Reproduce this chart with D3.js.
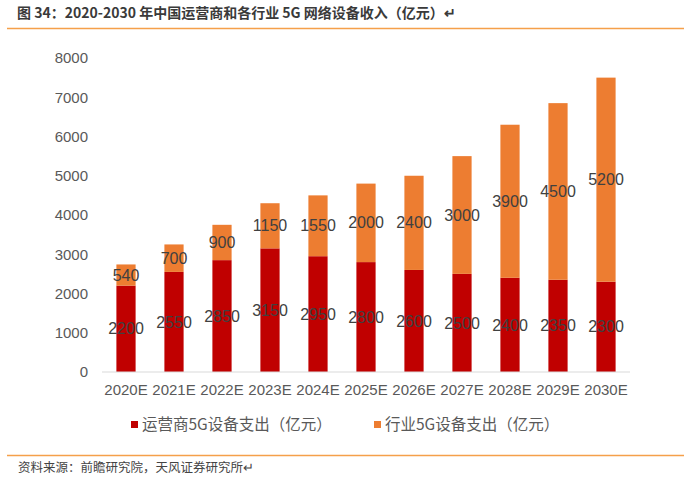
<!DOCTYPE html>
<html>
<head>
<meta charset="utf-8">
<script src="https://cdn.jsdelivr.net/npm/d3@7"></script>
<style>
  body { margin: 0; background: #fff; }
  svg { display: block; font-family: "Liberation Sans", Arial, "Noto Sans CJK SC", sans-serif; }
</style>
</head>
<body>
<div id="chart"></div>
<script>
// data
const years = ["2020E", "2021E", "2022E", "2023E", "2024E", "2025E", "2026E", "2027E", "2028E", "2029E", "2030E"];
const operatorSpend = [2200, 2550, 2850, 3150, 2950, 2800, 2600, 2500, 2400, 2350, 2300];
const industrySpend = [540, 700, 900, 1150, 1550, 2000, 2400, 3000, 3900, 4500, 5200];
const yTicks = [0, 1000, 2000, 3000, 4000, 5000, 6000, 7000, 8000];
const seriesNames = ["运营商5G设备支出（亿元）", "行业5G设备支出（亿元）"];
const colors = ["#C00000", "#ED7D31"];

const W = 700, H = 480;
const svg = d3.select("#chart").append("svg")
    .attr("width", W)
    .attr("height", H);

// header
svg.append("text")
    .attr("x", 17)
    .attr("y", 18)
    .style("font-family", "'Noto Sans CJK SC', sans-serif")
    .style("font-size", "14px")
    .style("font-weight", "bold")
    .attr("fill", "#3a3a3a")
    .text("图 34：2020-2030 年中国运营商和各行业 5G 网络设备收入（亿元）↵");

svg.append("line")
    .attr("x1", 7).attr("x2", 684)
    .attr("y1", 28.5).attr("y2", 28.5)
    .attr("stroke", "#F5A04A")
    .attr("stroke-width", 1.5);

// scales
const x = d3.scaleBand().domain(years).range([102, 630]).paddingInner(0.6).paddingOuter(0.3);
const y = d3.scaleLinear().domain([0, 8000]).range([372, 58]);

const rows = years.map(function(yr, i) {
    return { year: yr, operator: operatorSpend[i], industry: industrySpend[i] };
});
const stacked = d3.stack().keys(["operator", "industry"])(rows);

const layers = svg.selectAll("g.layer")
    .data(stacked)
    .enter()
    .append("g")
    .attr("class", "layer")
    .attr("fill", function(d, i) { return colors[i]; });

layers.selectAll("rect")
    .data(function(d) { return d; })
    .enter()
    .append("rect")
    .attr("x", function(d) { return x(d.data.year); })
    .attr("width", x.bandwidth())
    .attr("y", function(d) { return y(d[1]); })
    .attr("height", function(d) { return y(d[0]) - y(d[1]); });

// value labels, centred in each segment
layers.selectAll("text")
    .data(function(d) { return d.map(function(p) { return { p: p, key: d.key }; }); })
    .enter()
    .append("text")
    .attr("x", function(d) { return x(d.p.data.year) + x.bandwidth() / 2; })
    .attr("y", function(d) { return (y(d.p[0]) + y(d.p[1])) / 2; })
    .attr("dy", "0.35em")
    .attr("text-anchor", "middle")
    .attr("fill", "#404040")
    .style("font-size", "16px")
    .text(function(d) { return d.p.data[d.key]; });

// y axis (labels only)
const yAxis = svg.append("g")
    .attr("transform", "translate(88,0)")
    .call(d3.axisLeft(y).tickValues(yTicks).tickFormat(d3.format("d")).tickSize(0).tickPadding(0));
yAxis.select(".domain").remove();
yAxis.selectAll("text")
    .attr("fill", "#595959")
    .style("font-size", "15px")
    .style("font-family", "'Liberation Sans', Arial, sans-serif");

// x axis
const xAxis = svg.append("g")
    .attr("transform", "translate(0,372)")
    .call(d3.axisBottom(x).tickSize(0).tickPadding(12));
xAxis.select(".domain").attr("stroke", "#D9D9D9").attr("stroke-width", 1.2)
    .attr("d", "M102,0H630");
xAxis.selectAll("text")
    .attr("fill", "#595959")
    .style("font-size", "15px")
    .style("font-family", "'Liberation Sans', Arial, sans-serif");

// legend
const legendX = [131, 374];
seriesNames.forEach(function(name, i) {
    svg.append("rect")
        .attr("x", legendX[i]).attr("y", 421)
        .attr("width", 7).attr("height", 7)
        .attr("fill", colors[i]);
    svg.append("text")
        .attr("x", legendX[i] + 11)
        .attr("y", 425)
        .attr("dy", "0.35em")
        .attr("fill", "#595959")
        .style("font-family", "'Noto Sans CJK SC', sans-serif")
        .style("font-size", "15.5px")
        .text(name);
});

// footer
svg.append("line")
    .attr("x1", 7).attr("x2", 684)
    .attr("y1", 455.5).attr("y2", 455.5)
    .attr("stroke", "#F5A04A")
    .attr("stroke-width", 1.5);

svg.append("text")
    .attr("x", 18)
    .attr("y", 472)
    .attr("fill", "#444")
    .style("font-family", "'Noto Sans CJK SC', sans-serif")
    .style("font-size", "12.5px")
    .text("资料来源：前瞻研究院，天风证券研究所↵");
</script>
</body>
</html>
